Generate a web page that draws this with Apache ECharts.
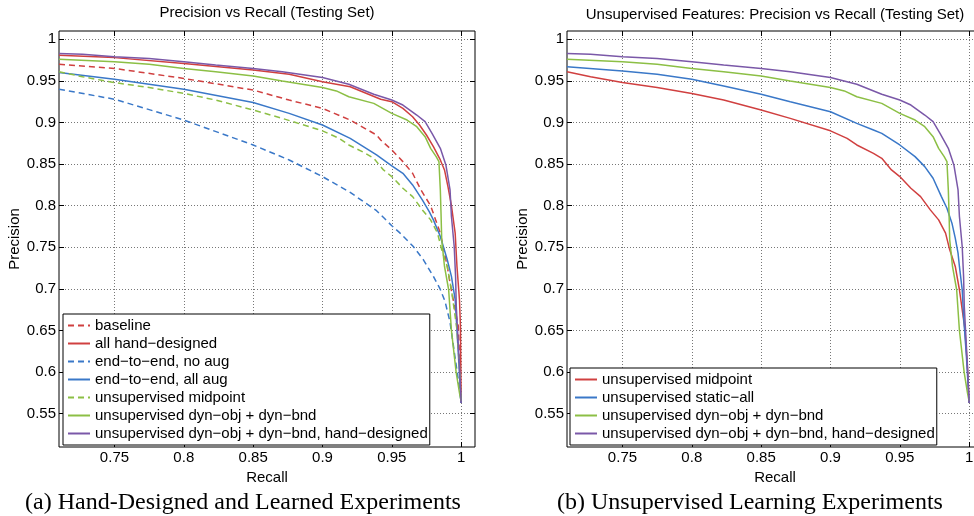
<!DOCTYPE html>
<html>
<head>
<meta charset="utf-8">
<script src="https://cdn.jsdelivr.net/npm/echarts@6/dist/echarts.min.js"></script>
<style>
  html, body { margin: 0; background: #fff; }
  #main { width: 974px; height: 516px; }
</style>
</head>
<body>
<div id="main"></div>
<script>
// tick values
const recallTicks = [0.75, 0.8, 0.85, 0.9, 0.95, 1];
const precisionTicks = [0.55, 0.6, 0.65, 0.7, 0.75, 0.8, 0.85, 0.9, 0.95, 1];

// [recall, precision]
const baseline = [[0.71,0.970],[0.75,0.965],[0.8,0.953],[0.85,0.939],[0.876,0.927],[0.9,0.917],[0.92,0.903],[0.939,0.885],[0.942,0.879],[0.95,0.867],[0.958,0.853],[0.965,0.839],[0.971,0.819],[0.978,0.800],[0.985,0.767],[0.99,0.727],[0.992,0.707],[0.998,0.655],[1.0,0.563]];
const allHand = [[0.71,0.981],[0.75,0.978],[0.8,0.971],[0.85,0.963],[0.876,0.958],[0.9,0.949],[0.92,0.943],[0.942,0.928],[0.95,0.925],[0.958,0.917],[0.965,0.907],[0.970,0.897],[0.975,0.885],[0.98,0.871],[0.985,0.855],[0.988,0.843],[0.9905,0.823],[0.993,0.800],[0.9957,0.767],[0.997,0.727],[0.9988,0.687],[0.9995,0.655],[1.0,0.563]];
const noAug = [[0.71,0.940],[0.75,0.928],[0.8,0.903],[0.85,0.873],[0.876,0.855],[0.9,0.835],[0.92,0.816],[0.939,0.794],[0.95,0.776],[0.956,0.767],[0.9655,0.751],[0.9728,0.735],[0.98,0.715],[0.9848,0.700],[0.9884,0.685],[0.992,0.660],[0.995,0.625],[0.998,0.590],[1.0,0.563]];
const allAug = [[0.71,0.960],[0.75,0.952],[0.8,0.940],[0.85,0.924],[0.876,0.911],[0.9,0.897],[0.92,0.881],[0.939,0.861],[0.95,0.848],[0.958,0.839],[0.965,0.825],[0.972,0.807],[0.977,0.793],[0.98,0.783],[0.985,0.763],[0.99,0.735],[0.993,0.715],[0.9957,0.687],[0.997,0.650],[1.0,0.563]];
const midpoint = [[0.71,0.961],[0.727,0.955],[0.75,0.948],[0.775,0.942],[0.8,0.935],[0.823,0.927],[0.85,0.915],[0.871,0.905],[0.9,0.890],[0.912,0.881],[0.919,0.873],[0.931,0.863],[0.937,0.857],[0.944,0.843],[0.95,0.835],[0.958,0.821],[0.965,0.811],[0.972,0.795],[0.978,0.783],[0.983,0.767],[0.986,0.747],[0.99,0.727],[0.993,0.699],[0.995,0.675],[0.997,0.651],[0.999,0.600],[1.0,0.563]];
const staticAll = [[0.71,0.967],[0.75,0.962],[0.775,0.958],[0.8,0.952],[0.823,0.944],[0.85,0.934],[0.871,0.925],[0.9,0.913],[0.919,0.899],[0.931,0.891],[0.937,0.887],[0.95,0.873],[0.961,0.859],[0.968,0.847],[0.974,0.833],[0.98,0.811],[0.984,0.797],[0.9876,0.779],[0.99,0.761],[0.992,0.743],[0.993,0.727],[0.995,0.699],[0.996,0.667],[0.998,0.620],[1.0,0.563]];
const dynObj = [[0.71,0.976],[0.75,0.973],[0.775,0.970],[0.8,0.965],[0.823,0.961],[0.85,0.956],[0.871,0.950],[0.9,0.942],[0.91,0.938],[0.919,0.931],[0.937,0.923],[0.95,0.911],[0.961,0.903],[0.968,0.895],[0.974,0.883],[0.978,0.869],[0.982,0.859],[0.984,0.853],[0.985,0.819],[0.9855,0.791],[0.986,0.759],[0.988,0.727],[0.991,0.699],[0.993,0.650],[0.9964,0.600],[0.9988,0.575],[1.0,0.565]];
const dynHand = [[0.71,0.983],[0.727,0.982],[0.75,0.979],[0.775,0.977],[0.8,0.973],[0.823,0.969],[0.85,0.965],[0.871,0.961],[0.9,0.954],[0.919,0.946],[0.937,0.934],[0.95,0.927],[0.958,0.921],[0.968,0.909],[0.974,0.901],[0.979,0.887],[0.985,0.869],[0.989,0.849],[0.992,0.819],[0.993,0.787],[0.995,0.751],[0.996,0.715],[0.9965,0.679],[0.9974,0.651],[0.999,0.600],[1.0,0.563]];

const RED = '#d04040', BLUE = '#3a78c8', GREEN = '#8cbf45', PURPLE = '#7a58a8';
const FONT = '"Liberation Sans", Arial, Helvetica, sans-serif';

const myChart = echarts.init(document.getElementById('main'));

function line(name, data, color, dashed, gi) {
    return {
        type: 'line', name: name, data: data,
        xAxisIndex: gi * 2, yAxisIndex: gi * 2,
        symbol: 'none', clip: true,
        lineStyle: { color: color, width: 1.5, type: dashed ? [6, 4] : 'solid' },
        itemStyle: { color: color }
    };
}

function xAx(gi, pos) {
    const main = pos === 'bottom';
    return {
        type: 'value', gridIndex: gi, position: pos, min: 0.71, max: 1.01,
        axisLine: { show: false },
        axisTick: { show: true, inside: true, length: 5, customValues: recallTicks, lineStyle: { color: '#000' } },
        axisLabel: { show: main, customValues: recallTicks, color: '#000', fontSize: 15, fontFamily: FONT, margin: 3 },
        splitLine: { show: main, lineStyle: { color: '#777', width: 1, type: [1, 2] } },
        name: main ? 'Recall' : '', nameLocation: 'middle', nameGap: 14,
        nameTextStyle: { color: '#000', fontSize: 15, fontFamily: FONT }
    };
}

function yAx(gi, pos) {
    const main = pos === 'left';
    return {
        type: 'value', gridIndex: gi, position: pos, min: 0.51, max: 1.01,
        axisLine: { show: false },
        axisTick: { show: true, inside: true, length: 5, customValues: precisionTicks, lineStyle: { color: '#000' } },
        axisLabel: { show: main, customValues: precisionTicks, color: '#000', fontSize: 15, fontFamily: FONT, margin: 3 },
        splitLine: { show: main, lineStyle: { color: '#777', width: 1, type: [1, 2] } },
        name: main ? 'Precision' : '', nameLocation: 'middle', nameGap: 37,
        nameTextStyle: { color: '#000', fontSize: 15, fontFamily: FONT }
    };
}

function legendAt(left, top, names) {
    return {
        left: left, top: top, orient: 'vertical', data: names,
        itemWidth: 22, itemHeight: 14, itemGap: 3,
        padding: [4, 2, 4, 4],
        backgroundColor: '#fff', borderColor: '#000', borderWidth: 1, borderRadius: 0,
        selectedMode: false,
        itemStyle: { opacity: 0 },   // hide the marker, keep the line sample
        formatter: n => n.trim(),
        textStyle: { color: '#000', fontSize: 15, fontFamily: FONT }
    };
}

function label(text, x, y, size, family) {
    return {
        type: 'text', x: x, y: y,
        style: {
            text: text, fill: '#000', fontSize: size, fontFamily: family,
            align: 'center', textAlign: 'center', verticalAlign: 'middle', textVerticalAlign: 'middle'
        }
    };
}

const leftNames = ['baseline', 'all hand\u2212designed', 'end\u2212to\u2212end, no aug', 'end\u2212to\u2212end, all aug',
    'unsupervised midpoint', 'unsupervised dyn\u2212obj + dyn\u2212bnd', 'unsupervised dyn\u2212obj + dyn\u2212bnd, hand\u2212designed'];
// right names get a trailing space so the legends do not mix up styles
const rightNames = ['unsupervised midpoint ', 'unsupervised static\u2212all', 'unsupervised dyn\u2212obj + dyn\u2212bnd ',
    'unsupervised dyn\u2212obj + dyn\u2212bnd, hand\u2212designed '];

const option = {
    animation: false,
    backgroundColor: '#fff',
    grid: [
        { left: 59, top: 31, width: 416, height: 416, show: true, borderColor: '#000', borderWidth: 1, outerBoundsMode: 'none' },
        { left: 567, top: 31, width: 416, height: 416, show: true, borderColor: '#000', borderWidth: 1, outerBoundsMode: 'none' }
    ],
    xAxis: [xAx(0, 'bottom'), xAx(0, 'top'), xAx(1, 'bottom'), xAx(1, 'top')],
    yAxis: [yAx(0, 'left'), yAx(0, 'right'), yAx(1, 'left'), yAx(1, 'right')],
    legend: [legendAt(63, 314, leftNames), legendAt(570, 368, rightNames)],
    graphic: [
        label('Precision vs Recall (Testing Set)', 267, 13, 15, FONT),
        label('Unsupervised Features: Precision vs Recall (Testing Set)', 775, 15, 15, FONT),
        label('(a) Hand-Designed and Learned Experiments', 243, 503, 24, '"Liberation Serif", "Times New Roman", serif'),
        label('(b) Unsupervised Learning Experiments', 750, 503, 24, '"Liberation Serif", "Times New Roman", serif')
    ],
    series: [
        line(leftNames[0], baseline, RED, true, 0),
        line(leftNames[1], allHand, RED, false, 0),
        line(leftNames[2], noAug, BLUE, true, 0),
        line(leftNames[3], allAug, BLUE, false, 0),
        line(leftNames[4], midpoint, GREEN, true, 0),
        line(leftNames[5], dynObj, GREEN, false, 0),
        line(leftNames[6], dynHand, PURPLE, false, 0),
        line(rightNames[0], midpoint, RED, false, 1),
        line(rightNames[1], staticAll, BLUE, false, 1),
        line(rightNames[2], dynObj, GREEN, false, 1),
        line(rightNames[3], dynHand, PURPLE, false, 1)
    ]
};

myChart.setOption(option);
</script>
</body>
</html>
